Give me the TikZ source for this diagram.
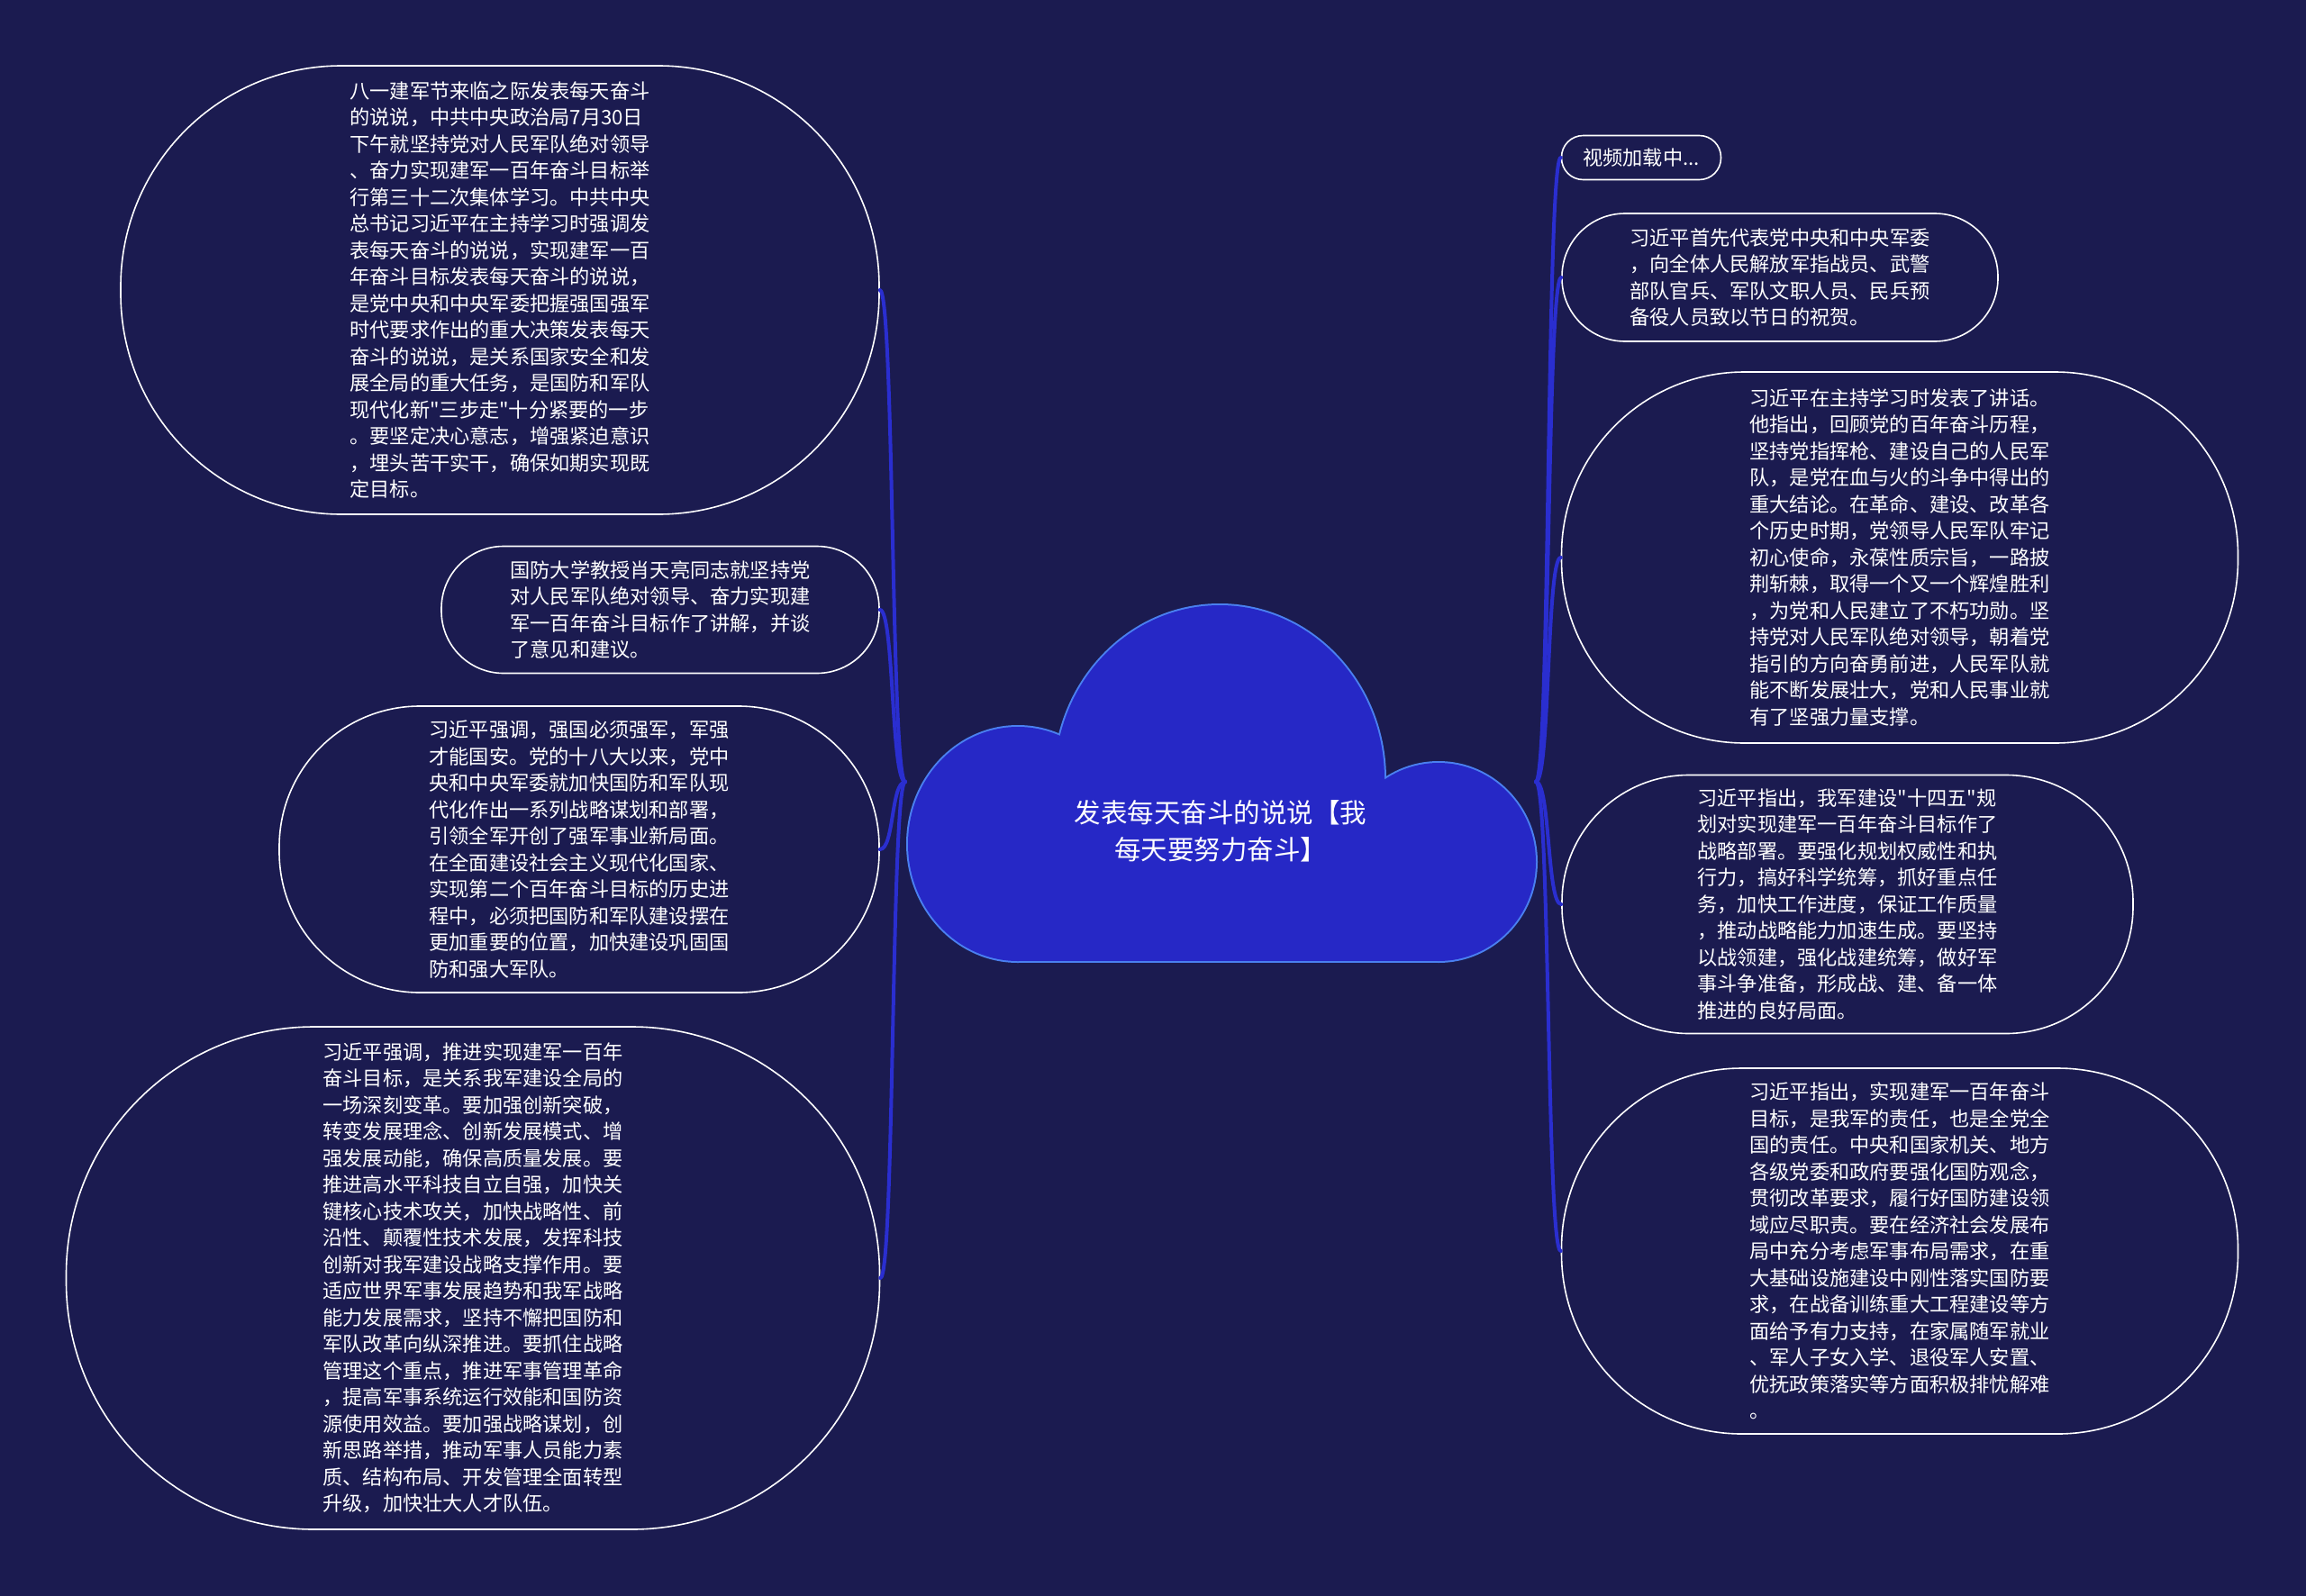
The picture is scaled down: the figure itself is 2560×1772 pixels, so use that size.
\documentclass[tikz,border=0pt]{standalone}
\usepackage{fontspec}
\usepackage{xcolor}
\usepackage{tikz}
\newfontfamily\cjk{Noto Sans CJK SC}
\definecolor{bgnavy}{RGB}{27,27,80}
\definecolor{cloudblue}{RGB}{38,40,198}
\definecolor{cloudedge}{RGB}{74,128,240}
\definecolor{linkblue}{RGB}{42,46,208}
\tikzset{
bubble/.style={
  draw=white,
  line width=1.6pt,
  fill=bgnavy,
  text=white,
  align=left,
  inner sep=0pt,
  font=\cjk\fontsize{22.2pt}{29.5pt}\selectfont
},
link/.style={draw=linkblue,line width=4pt,line cap=round},
topic/.style={text=white,align=center,font=\cjk\fontsize{29.5pt}{41pt}\selectfont},
}

\begin{document}
\begin{tikzpicture}[x=1pt,y=-1pt]
\fill[bgnavy] (0,0) rectangle (2560,1772);
\useasboundingbox (0,0) rectangle (2560,1772);
% the cloud
\begin{scope}[draw=cloudedge,line width=4pt]
\draw (1130,937) ellipse [x radius=122,y radius=130];
\draw (1354,865) ellipse [x radius=183,y radius=193];
\draw (1597,957) ellipse [x radius=108,y radius=110];
\draw (1130,900) rectangle (1597,1067);
\end{scope}
\begin{scope}[fill=cloudblue]
\fill (1130,937) ellipse [x radius=122,y radius=130];
\fill (1354,865) ellipse [x radius=183,y radius=193];
\fill (1597,957) ellipse [x radius=108,y radius=110];
\fill (1130,900) rectangle (1597,1067);
\end{scope}
\node[topic] (topic) at (1355,923) {发表每天奋斗的说说【我\\每天要努力奋斗】};
\coordinate (hubL) at (1005,868);
\coordinate (hubR) at (1705,868);
% left side
\node[bubble,minimum width=842pt,minimum height=498pt,rounded corners=245pt] (L1) at (555,322)
{八一建军节来临之际发表每天奋斗\\
的说说，中共中央政治局7月30日\\
下午就坚持党对人民军队绝对领导\\
、奋力实现建军一百年奋斗目标举\\
行第三十二次集体学习。中共中央\\
总书记习近平在主持学习时强调发\\
表每天奋斗的说说，实现建军一百\\
年奋斗目标发表每天奋斗的说说，\\
是党中央和中央军委把握强国强军\\
时代要求作出的重大决策发表每天\\
奋斗的说说，是关系国家安全和发\\
展全局的重大任务，是国防和军队\\
现代化新"三步走"十分紧要的一步\\
。要坚定决心意志，增强紧迫意识\\
，埋头苦干实干，确保如期实现既\\
定目标。};
\node[bubble,minimum width=486pt,minimum height=141pt,rounded corners=69pt] (L2) at (733,677)
{国防大学教授肖天亮同志就坚持党\\
对人民军队绝对领导、奋力实现建\\
军一百年奋斗目标作了讲解，并谈\\
了意见和建议。};
\node[bubble,minimum width=666pt,minimum height=318pt,rounded corners=156pt] (L3) at (643,943)
{习近平强调，强国必须强军，军强\\
才能国安。党的十八大以来，党中\\
央和中央军委就加快国防和军队现\\
代化作出一系列战略谋划和部署，\\
引领全军开创了强军事业新局面。\\
在全面建设社会主义现代化国家、\\
实现第二个百年奋斗目标的历史进\\
程中，必须把国防和军队建设摆在\\
更加重要的位置，加快建设巩固国\\
防和强大军队。};
\node[bubble,minimum width=903pt,minimum height=558pt,rounded corners=275pt] (L4) at (525,1419)
{习近平强调，推进实现建军一百年\\
奋斗目标，是关系我军建设全局的\\
一场深刻变革。要加强创新突破，\\
转变发展理念、创新发展模式、增\\
强发展动能，确保高质量发展。要\\
推进高水平科技自立自强，加快关\\
键核心技术攻关，加快战略性、前\\
沿性、颠覆性技术发展，发挥科技\\
创新对我军建设战略支撑作用。要\\
适应世界军事发展趋势和我军战略\\
能力发展需求，坚持不懈把国防和\\
军队改革向纵深推进。要抓住战略\\
管理这个重点，推进军事管理革命\\
，提高军事系统运行效能和国防资\\
源使用效益。要加强战略谋划，创\\
新思路举措，推动军事人员能力素\\
质、结构布局、开发管理全面转型\\
升级，加快壮大人才队伍。};
% right side
\node[bubble,minimum width=177pt,minimum height=49pt,rounded corners=24pt] (R1) at (1822,175)
{视频加载中...};
\node[bubble,minimum width=484pt,minimum height=142pt,rounded corners=70pt] (R2) at (1976,308)
{习近平首先代表党中央和中央军委\\
，向全体人民解放军指战员、武警\\
部队官兵、军队文职人员、民兵预\\
备役人员致以节日的祝贺。};
\node[bubble,minimum width=751pt,minimum height=412pt,rounded corners=203pt] (R3) at (2109,619)
{习近平在主持学习时发表了讲话。\\
他指出，回顾党的百年奋斗历程，\\
坚持党指挥枪、建设自己的人民军\\
队，是党在血与火的斗争中得出的\\
重大结论。在革命、建设、改革各\\
个历史时期，党领导人民军队牢记\\
初心使命，永葆性质宗旨，一路披\\
荆斩棘，取得一个又一个辉煌胜利\\
，为党和人民建立了不朽功勋。坚\\
持党对人民军队绝对领导，朝着党\\
指引的方向奋勇前进，人民军队就\\
能不断发展壮大，党和人民事业就\\
有了坚强力量支撑。};
\node[bubble,minimum width=634pt,minimum height=287pt,rounded corners=141pt] (R4) at (2051,1004)
{习近平指出，我军建设"十四五"规\\
划对实现建军一百年奋斗目标作了\\
战略部署。要强化规划权威性和执\\
行力，搞好科学统筹，抓好重点任\\
务，加快工作进度，保证工作质量\\
，推动战略能力加速生成。要坚持\\
以战领建，强化战建统筹，做好军\\
事斗争准备，形成战、建、备一体\\
推进的良好局面。};
\node[bubble,minimum width=751pt,minimum height=406pt,rounded corners=200pt] (R5) at (2109,1389)
{习近平指出，实现建军一百年奋斗\\
目标，是我军的责任，也是全党全\\
国的责任。中央和国家机关、地方\\
各级党委和政府要强化国防观念，\\
贯彻改革要求，履行好国防建设领\\
域应尽职责。要在经济社会发展布\\
局中充分考虑军事布局需求，在重\\
大基础设施建设中刚性落实国防要\\
求，在战备训练重大工程建设等方\\
面给予有力支持，在家属随军就业\\
、军人子女入学、退役军人安置、\\
优抚政策落实等方面积极排忧解难\\
。};
% the links
\foreach \n in {L1,L2,L3,L4}
{
  \draw[link] (hubL) .. controls +(-16,0) and +(16,0) .. (\n.east);
}
\foreach \n in {R1,R2,R3,R4,R5}
{
  \draw[link] (hubR) .. controls +(16,0) and +(-16,0) .. (\n.west);
}
\end{tikzpicture}
\end{document}
